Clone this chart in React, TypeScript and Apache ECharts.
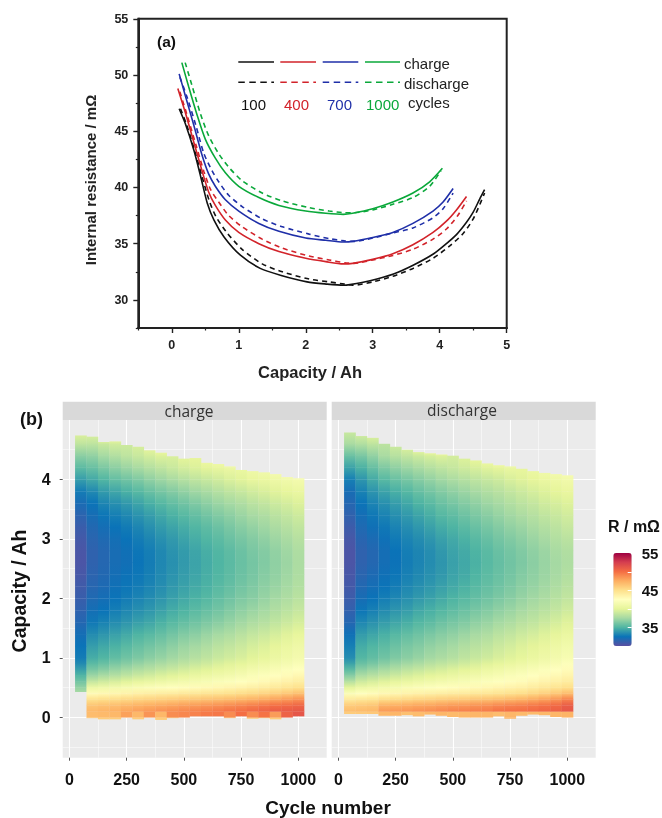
import React, { useEffect, useRef } from "react";
import * as echarts from "echarts";

const FONT = '"Liberation Sans", Arial, sans-serif';

// Panel (a): [capacity, resistance]
const black100Charge = [[0.11,47],[0.2,45.7],[0.33,43.3],[0.43,41],[0.53,38.6],[0.63,37.1],[0.78,35.6],[1.02,34],[1.32,32.8],[1.62,32.2],[2.02,31.6],[2.32,31.4],[2.56,31.3],[2.66,31.36],[2.96,31.7],[3.31,32.3],[3.61,33.1],[3.91,34.1],[4.1,35],[4.25,35.8],[4.4,36.9],[4.5,37.8],[4.6,39],[4.67,39.8]];
const black100Discharge = [[0.13,47],[0.22,45.6],[0.35,43.1],[0.45,41],[0.56,38.8],[0.66,37.4],[0.82,36],[1.05,34.5],[1.35,33.2],[1.65,32.5],[2.05,31.85],[2.35,31.6],[2.58,31.4],[2.7,31.3],[3,31.6],[3.3,32.1],[3.6,32.8],[3.9,33.7],[4.15,34.8],[4.35,35.9],[4.5,37.2],[4.6,38.5],[4.67,39.5]];
const red400Charge = [[0.09,48.8],[0.2,46.7],[0.33,44],[0.45,41.5],[0.55,39.6],[0.65,38.4],[0.8,37.1],[1,36],[1.3,35],[1.6,34.3],[2,33.7],[2.3,33.4],[2.56,33.2],[2.7,33.25],[3,33.6],[3.3,34.1],[3.6,34.9],[3.9,36],[4.1,37],[4.25,38],[4.4,39.2]];
const red400Discharge = [[0.12,48.5],[0.22,46.6],[0.36,43.8],[0.48,41.4],[0.58,39.8],[0.7,38.7],[0.85,37.5],[1.05,36.5],[1.35,35.4],[1.65,34.6],[2.05,33.9],[2.35,33.55],[2.58,33.3],[2.72,33.25],[3,33.55],[3.3,33.95],[3.6,34.5],[3.9,35.4],[4.1,36.3],[4.27,37.5],[4.4,38.8]];
const blue700Charge = [[0.11,50.1],[0.2,48.2],[0.33,45.5],[0.45,42.9],[0.55,41.2],[0.65,40.1],[0.8,38.9],[1,37.9],[1.3,36.8],[1.6,36.1],[2,35.5],[2.3,35.3],[2.56,35.15],[2.7,35.2],[3,35.55],[3.3,36],[3.6,36.8],[3.9,37.9],[4.05,38.7],[4.2,39.9]];
const blue700Discharge = [[0.12,49.8],[0.23,48],[0.36,45.5],[0.48,43],[0.6,41.5],[0.7,40.5],[0.85,39.3],[1.05,38.3],[1.35,37.2],[1.65,36.5],[2.05,35.85],[2.35,35.45],[2.58,35.25],[2.72,35.2],[3,35.5],[3.3,35.95],[3.6,36.4],[3.9,37.3],[4.05,38.1],[4.2,39.5]];
const green1000Charge = [[0.15,51.1],[0.25,49],[0.38,46.4],[0.5,44.3],[0.65,42.6],[0.8,41.3],[1,40.1],[1.3,39.1],[1.6,38.4],[2,37.9],[2.3,37.7],[2.56,37.6],[2.7,37.7],[3,38.1],[3.3,38.7],[3.6,39.5],[3.85,40.5],[4.04,41.7]];
const green1000Discharge = [[0.2,51.1],[0.3,49.1],[0.43,46.5],[0.55,44.6],[0.7,43],[0.85,41.8],[1.05,40.6],[1.35,39.5],[1.65,38.8],[2.05,38.2],[2.35,37.9],[2.58,37.75],[2.72,37.75],[3,38],[3.3,38.5],[3.6,39.1],[3.85,40.1],[4.02,41.5]];
const xTicksA = [0,1,2,3,4,5];
const xMinorA = [-0.5,0.5,1.5,2.5,3.5,4.5];
const yTicksA = [30,35,40,45,50,55];
const yMinorA = [27.5,32.5,37.5,42.5,47.5,52.5];

// Panel (b)
const cycleCentres = [50,100,150,200,250,300,350,400,450,500,550,600,650,700,750,800,850,900,950,1000];
const rowEdges = [-0.1,0,0.1,0.2,0.3,0.4,0.5,0.6,0.7,0.8,0.9,1.0,1.2,1.4,1.6,1.8,2.0,2.2,2.4,2.6,2.8,3.0,3.2,3.4,3.6,3.8,4.0,4.2,4.4,4.6,4.8];
const chargeTops = [4.74,4.72,4.63,4.64,4.58,4.55,4.49,4.45,4.39,4.35,4.36,4.28,4.26,4.22,4.16,4.14,4.12,4.09,4.04,4.02];
const chargeBottoms = [0.43,-0.01,-0.03,-0.03,0,-0.03,0,-0.04,-0.01,0,0.02,0.02,0.02,-0.01,0.02,-0.02,-0.01,-0.03,0,0.02];
const dischargeTops = [4.79,4.73,4.7,4.6,4.55,4.5,4.46,4.44,4.42,4.4,4.35,4.32,4.27,4.24,4.22,4.18,4.14,4.11,4.09,4.07];
const dischargeBottoms = [0.06,0.06,0.06,0.03,0.03,0.04,0.02,0.05,0.03,0.01,0,0,0,0.02,-0.02,0.03,0.05,0.04,0.01,0];

const chargeR = [
[null,46,46,46,46,46,46,46,46,46,46,46,46,46,46,46,46,46,46,46],
[null,46.8,46.9,47,48,47,48.5,47,48.8,49,49.2,49.5,49.6,48.8,50,48.8,49.8,48.2,50.6,51.2],
[null,47,47.2,47.4,47.8,48.1,48.4,48.6,48.8,49,49.2,49.4,49.6,49.9,50,50.3,50.6,50.9,51,51.1],
[null,45.8,46,46.1,46.3,46.5,46.7,46.8,47,47.2,47.3,47.5,47.7,47.9,48.2,48.5,48.8,49.1,49.4,49.8],
[null,44,44.2,44.3,44.5,44.7,44.8,45,45.1,45.3,45.4,45.6,45.7,45.9,46.1,46.3,46.6,46.9,47.3,47.7],
[37.5,41.8,42,42.2,42.5,42.7,42.9,43.1,43.2,43.4,43.5,43.7,43.8,44,44.2,44.4,44.6,44.9,45.2,45.6],
[36.5,39.6,40,40.3,40.7,41,41.3,41.5,41.7,41.9,42.1,42.3,42.5,42.7,42.9,43.2,43.4,43.7,44,44.3],
[35.6,37.9,38.3,38.7,39.1,39.5,39.8,40.1,40.4,40.7,40.9,41.2,41.5,41.7,42,42.3,42.6,42.9,43.2,43.5],
[34.6,36.7,37.2,37.6,38,38.4,38.7,39.1,39.4,39.7,40,40.3,40.6,40.9,41.2,41.6,41.9,42.2,42.5,42.8],
[33.8,35.8,36.2,36.7,37.1,37.5,37.8,38.2,38.5,38.9,39.2,39.5,39.9,40.2,40.5,40.9,41.2,41.5,41.9,42.2],
[33,35,35.4,35.9,36.3,36.7,37.1,37.4,37.8,38.1,38.5,38.8,39.2,39.5,39.8,40.2,40.5,40.9,41.2,41.6],
[32.7,34.4,34.8,35.2,35.6,36,36.4,36.7,37.1,37.5,37.8,38.2,38.6,38.9,39.2,39.6,39.9,40.3,40.7,41.1],
[32.4,33.8,34.2,34.6,35,35.4,35.7,36.1,36.5,36.9,37.2,37.6,38,38.3,38.7,39.1,39.4,39.8,40.2,40.6],
[31.9,33,33.4,33.8,34.1,34.5,34.8,35.2,35.6,36,36.3,36.7,37.1,37.4,37.8,38.2,38.5,38.9,39.3,39.7],
[31.5,32.4,32.7,33.1,33.5,33.8,34.1,34.5,34.9,35.2,35.6,36,36.3,36.7,37.1,37.5,37.8,38.2,38.6,39],
[31.2,32,32.3,32.7,33,33.3,33.6,34,34.4,34.7,35.1,35.4,35.8,36.2,36.6,36.9,37.3,37.7,38.1,38.5],
[30.9,31.7,32,32.4,32.7,33,33.3,33.6,34,34.4,34.7,35,35.4,35.8,36.2,36.5,36.9,37.3,37.7,38.1],
[30.7,31.5,31.8,32.2,32.5,32.7,33,33.4,33.8,34.1,34.5,34.8,35.2,35.5,35.9,36.3,36.7,37,37.4,37.9],
[30.5,31.4,31.7,32.1,32.3,32.6,32.9,33.3,33.6,34,34.3,34.7,35,35.4,35.8,36.1,36.5,36.9,37.3,37.8],
[30.4,31.3,31.6,32,32.2,32.5,32.8,33.2,33.6,33.9,34.3,34.6,35,35.3,35.7,36.1,36.4,36.8,37.2,37.7],
[30.6,31.4,31.7,32.1,32.4,32.7,33,33.4,33.8,34.1,34.5,34.9,35.2,35.6,36,36.4,36.7,37.1,37.5,38],
[30.8,31.6,32,32.3,32.6,33,33.4,33.8,34.1,34.5,34.9,35.2,35.6,36,36.4,36.7,37.1,37.5,37.9,38.3],
[31.2,31.9,32.3,32.7,33,33.4,33.8,34.2,34.6,34.9,35.3,35.7,36.1,36.5,36.9,37.3,37.6,38,38.4,38.8],
[31.7,32.3,32.9,33.2,33.6,34,34.4,34.8,35.2,35.6,36,36.4,36.8,37.1,37.5,37.9,38.2,38.6,38.9,39.3],
[32.3,32.8,33.5,33.9,34.3,34.7,35.2,35.6,36,36.4,36.8,37.2,37.6,38,38.3,38.7,39,39.4,39.7,40],
[33.4,33.9,34.5,35,35.4,35.8,36.3,36.7,37.1,37.5,37.9,38.2,38.6,39,39.3,39.7,40,40.3,40.6,40.9],
[34.8,35.2,35.7,36.2,36.6,37,37.5,37.9,38.3,38.7,39.1,39.4,39.7,40.1,40.4,40.8,41,41.3,41.5,41.7],
[36,36.3,36.9,37.4,37.9,38.3,38.7,39.1,39.5,39.9,40.1,40.5,40.8,41.1],
[37.5,37.6,38.2,38.6,39,39.4,39.8,40.2],
[39.5,39.3,39.5,39.8],
];

const dischargeR = [
[47,47,47,47,47,47,47,47,47,47,47,47,47,47,47,47,47,47,47,47],
[46,46.1,46.2,47,47.1,46.6,46.8,47,47.1,46.9,47,47.1,47.1,46.8,47.1,46.9,46.9,47,47.1,47.2],
[46.8,46.9,47,48.3,48.4,48.5,48.7,48.8,49,49.2,49.3,49.4,49.5,49.9,50,50,50.2,50.4,50.7,51.1],
[45.3,45.5,45.7,46.3,46.5,46.7,46.9,47,47.2,47.4,47.5,47.7,47.9,48.1,48.4,48.7,49,49.4,49.8,50.6],
[43.2,43.5,43.7,44,44.1,44.3,44.5,44.6,44.8,44.9,45,45.2,45.3,45.5,45.7,45.9,46.3,46.7,47.2,47.9],
[41,41.5,41.8,42.1,42.3,42.6,42.8,43,43.1,43.3,43.4,43.6,43.7,43.9,44.1,44.3,44.6,44.9,45.3,45.7],
[39,39.8,40.1,40.5,40.8,41.1,41.4,41.6,41.8,42,42.2,42.4,42.6,42.8,43,43.2,43.5,43.8,44.1,44.4],
[37.4,38.4,38.8,39.2,39.6,39.9,40.2,40.5,40.8,41,41.3,41.5,41.8,42,42.3,42.5,42.8,43.1,43.4,43.7],
[36,37.3,37.7,38.1,38.5,38.9,39.2,39.5,39.8,40.1,40.4,40.7,41,41.3,41.6,41.9,42.2,42.5,42.8,43.1],
[34.9,36.3,36.7,37.2,37.6,38,38.3,38.7,39,39.3,39.6,39.9,40.3,40.6,40.9,41.2,41.5,41.9,42.2,42.6],
[33.8,35.4,35.8,36.3,36.7,37,37.4,37.8,38.1,38.4,38.8,39.1,39.4,39.8,40.1,40.4,40.8,41.1,41.5,41.9],
[33.2,34.9,35.3,35.7,36.1,36.5,36.8,37.2,37.5,37.8,38.2,38.5,38.8,39.2,39.5,39.9,40.2,40.6,41,41.4],
[32.7,34.4,34.8,35.2,35.6,36,36.3,36.7,37,37.3,37.7,38,38.3,38.7,39,39.4,39.7,40.1,40.5,40.9],
[31.9,33.6,34,34.4,34.8,35.1,35.5,35.8,36.2,36.5,36.8,37.2,37.5,37.9,38.2,38.6,38.9,39.3,39.7,40.1],
[31.4,32.9,33.3,33.7,34.1,34.4,34.8,35.1,35.5,35.8,36.1,36.5,36.8,37.2,37.5,37.9,38.2,38.6,39,39.4],
[31.1,32.3,32.7,33.1,33.5,33.8,34.2,34.5,34.8,35.2,35.5,35.9,36.2,36.6,36.9,37.3,37.7,38,38.4,38.8],
[30.8,31.9,32.3,32.7,33,33.4,33.7,34,34.4,34.7,35.1,35.4,35.8,36.1,36.5,36.9,37.2,37.6,38,38.4],
[30.6,31.6,32,32.4,32.7,33.1,33.4,33.7,34,34.4,34.7,35.1,35.5,35.8,36.2,36.6,36.9,37.3,37.7,38.1],
[30.5,31.4,31.8,32.2,32.5,32.9,33.2,33.5,33.8,34.2,34.5,34.9,35.3,35.7,36,36.4,36.8,37.2,37.5,37.9],
[30.4,31.3,31.6,32.1,32.4,32.8,33.1,33.4,33.8,34.2,34.5,34.8,35.2,35.6,36,36.3,36.7,37.1,37.5,37.8],
[30.5,31.4,31.8,32.2,32.6,33,33.3,33.6,34,34.4,34.7,35.1,35.5,35.9,36.2,36.6,37,37.4,37.8,38.1],
[30.7,31.7,32.1,32.5,32.9,33.3,33.6,34,34.4,34.7,35.1,35.5,35.9,36.3,36.7,37,37.4,37.8,38.2,38.5],
[31.1,32,32.5,32.9,33.3,33.7,34.1,34.5,34.9,35.2,35.6,36,36.4,36.8,37.2,37.5,37.9,38.3,38.6,39],
[31.5,32.3,32.9,33.3,33.8,34.2,34.6,35,35.5,35.8,36.2,36.6,37,37.3,37.7,38.1,38.4,38.8,39.1,39.4],
[31.9,32.8,33.4,33.9,34.4,34.8,35.3,35.7,36.1,36.5,36.9,37.2,37.6,37.9,38.3,38.7,39,39.4,39.7,40],
[32.3,33.3,34.1,34.7,35.2,35.6,36.1,36.5,36.9,37.3,37.6,38,38.3,38.6,39,39.3,39.7,40,40.3,40.7],
[33.6,34.3,35.1,35.8,36.3,36.7,37.1,37.5,37.9,38.2,38.6,38.9,39.2,39.5,39.9,40.2,40.5,40.9,41.2,41.5],
[35,35.5,36.3,37,37.5,37.9,38.3,38.7,39,39.3,39.6,40,40.4,40.7,40.9],
[36.6,37,37.6,38.4,38.9,39.3,39.7,40,40.3],
[38.8,39,39.4],
];

const xTicksB = [0,250,500,750,1000];
const xMinorB = [125,375,625,875];
const yTicksB = [0,1,2,3,4];
const yMinorB = [-0.5,0.5,1.5,2.5,3.5,4.5];
const legendLabels = [35,45,55];
const legendTicks = [35,40,45,50];
const palette = ["#5a4fa2","#0a73b8","#4fb5a3","#a5d9a3","#e6f59a","#ffffbf","#fee08b","#fdae61","#f46d43","#d53e4f","#9e0142"];
const SCALE_MIN = 30, SCALE_MAX = 55;

function buildCells(rows: (number|null)[][], tops: number[], bottoms: number[]) {
  const cells: number[][] = [];
  rows.forEach((row, r) => {
    row.forEach((v, c) => {
      if (v == null) return;
      const lo = Math.max(rowEdges[r], bottoms[c]);
      const hi = Math.min(rowEdges[r + 1], tops[c]);
      if (hi <= lo) return;
      const below = r >= 3 ? rows[r - 1]?.[c] ?? v : v;
      const above = r >= 2 ? rows[r + 1]?.[c] ?? v : v;
      cells.push([cycleCentres[c] - 25, cycleCentres[c] + 25, lo, hi, v, (v + below) / 2, (v + above) / 2]);
    });
  });
  return cells;
}

const shade = (v: number) => echarts.color.lerp((v - SCALE_MIN) / (SCALE_MAX - SCALE_MIN), palette);

const renderCell = (params: any, api: any) => {
  const a = api.coord([api.value(0), api.value(3)]);
  const b = api.coord([api.value(1), api.value(2)]);
  return {
    type: "rect",
    shape: { x: a[0], y: a[1], width: b[0] - a[0] + 0.3, height: b[1] - a[1] + 0.3 },
    style: {
      fill: new echarts.graphic.LinearGradient(0, 0, 0, 1, [
        { offset: 0, color: shade(api.value(6)) },
        { offset: 1, color: shade(api.value(5)) },
      ]),
    },
  };
};

const lineSeries = (data: number[][], color: string, dashed: boolean) => ({
  type: "line", xAxisIndex: 0, yAxisIndex: 0, data, showSymbol: false, symbol: "none", smooth: 0.25,
  lineStyle: { color, width: 1.6, type: dashed ? [5, 4] : "solid" }, silent: true,
});

const heatSeries = (axis: number, cells: number[][]) => ({
  type: "custom", xAxisIndex: axis, yAxisIndex: axis, data: cells, renderItem: renderCell, silent: true,
  encode: { x: [0, 1], y: [2, 3] }, clip: false,
});

const txt = (text: string, x: number, y: number, font: string, color = "#111", align = "left", rotation = 0) => ({
  type: "text", x, y, rotation, z: 20,
  style: { text, font, fill: color, textAlign: align, textVerticalAlign: "middle" },
});
const seg = (x1: number, x2: number, y: number, color: string, dashed: boolean) => ({
  type: "line", z: 20, shape: { x1, y1: y, x2, y2: y },
  style: { stroke: color, lineWidth: 1.5, lineDash: dashed ? [6.5, 4.5] : undefined },
});

const BLACK = "#111111", RED = "#d2232a", BLUE = "#1f2fa8", GREEN = "#0aa83a";

const App = () => {
  const ref = useRef<HTMLDivElement>(null);
  useEffect(() => {
    const chart = echarts.init(ref.current!, undefined, { renderer: "svg" });
    const panelB = (i: number) => [62.7, 331.7][i];
    const grids = [
      { left: 138.3, top: 18.75, width: 368.4, height: 309.25, show: true, borderColor: "#222", borderWidth: 2, backgroundColor: "#fff" },
      { left: panelB(0), top: 420, width: 264, height: 337.7, show: true, borderWidth: 0, backgroundColor: "#EBEBEB" },
      { left: panelB(1), top: 420, width: 264, height: 337.7, show: true, borderWidth: 0, backgroundColor: "#EBEBEB" },
      { left: 613.3, top: 553, width: 18.4, height: 93 },
    ];
    const labelB = { color: "#111", fontFamily: FONT, fontWeight: "bold", fontSize: 16 };
    const xB = (grid: number) => [
      { type: "value", gridIndex: grid, min: -29, max: 1124, axisLine: { show: false, onZero: false },
        axisTick: { show: true, length: 3, lineStyle: { color: "#555" }, customValues: xTicksB },
        axisLabel: { ...labelB, margin: 14, customValues: xTicksB, formatter: (v: number) => String(v) },
        splitLine: { show: true, lineStyle: { color: "#fff", width: 1.1 } } },
      { type: "value", gridIndex: grid, min: -29, max: 1124, position: "top", axisLine: { show: false, onZero: false },
        axisTick: { show: false, customValues: xMinorB }, axisLabel: { show: false, customValues: xMinorB },
        splitLine: { show: true, lineStyle: { color: "#fff", width: 0.5 } } },
    ];
    const yB = (grid: number, labels: boolean) => [
      { type: "value", gridIndex: grid, min: -0.68, max: 5.0, axisLine: { show: false, onZero: false },
        axisTick: { show: labels, length: 3, lineStyle: { color: "#555" }, customValues: yTicksB },
        axisLabel: { ...labelB, show: labels, margin: 12, customValues: yTicksB },
        splitLine: { show: true, lineStyle: { color: "#fff", width: 1.1 } } },
      { type: "value", gridIndex: grid, min: -0.68, max: 5.0, position: "right", axisLine: { show: false, onZero: false },
        axisTick: { show: false, customValues: yMinorB }, axisLabel: { show: false, customValues: yMinorB },
        splitLine: { show: true, lineStyle: { color: "#fff", width: 0.5 } } },
    ];
    const labelA = { color: "#222", fontFamily: FONT, fontWeight: "bold", fontSize: 12.5 };
    const lineA = { onZero: false, lineStyle: { color: "#222", width: 2 } };
    const xAxes: any[] = [
      { type: "value", gridIndex: 0, min: -0.5, max: 5, splitLine: { show: false }, axisLine: lineA,
        axisTick: { length: 5, lineStyle: { color: "#222", width: 1.4 }, customValues: xTicksA },
        axisLabel: { ...labelA, margin: 10, customValues: xTicksA } },
      xB(1)[0],
      xB(1)[1],
      xB(2)[0],
      xB(2)[1],
      { type: "value", gridIndex: 3, min: 0, max: 1, show: false },
      { type: "value", gridIndex: 0, min: -0.5, max: 5, position: "bottom", splitLine: { show: false }, axisLine: lineA,
        axisTick: { length: 2.5, lineStyle: { color: "#222", width: 1.2 }, customValues: xMinorA },
        axisLabel: { show: false, customValues: xMinorA } },
    ];
    const yAxes: any[] = [
      { type: "value", gridIndex: 0, min: 27.5, max: 55, splitLine: { show: false }, axisLine: lineA,
        axisTick: { length: 5, lineStyle: { color: "#222", width: 1.4 }, customValues: yTicksA },
        axisLabel: { ...labelA, margin: 10, customValues: yTicksA } },
      yB(1, true)[0],
      yB(1, true)[1],
      yB(2, false)[0],
      yB(2, false)[1],
      { type: "value", gridIndex: 3, min: 30, max: 55.2, position: "right", z: 10, axisLine: { show: false, onZero: false },
        axisTick: { show: true, inside: true, length: 4, lineStyle: { color: "#fff" }, customValues: legendTicks },
        axisLabel: { color: "#111", fontFamily: FONT, fontWeight: "bold", fontSize: 15, margin: 10, customValues: legendLabels },
        splitLine: { show: false } },
      { type: "value", gridIndex: 0, min: 27.5, max: 55, position: "left", splitLine: { show: false }, axisLine: lineA,
        axisTick: { length: 2.5, lineStyle: { color: "#222", width: 1.2 }, customValues: yMinorA },
        axisLabel: { show: false, customValues: yMinorA } },
    ];
    const option: any = {
      animation: false,
      backgroundColor: "#fff",
      grid: grids,
      xAxis: xAxes,
      yAxis: yAxes,
      visualMap: {
        type: "continuous", show: true, min: SCALE_MIN, max: SCALE_MAX, dimension: 4, seriesIndex: [8, 9], calculable: false,
        inRange: { color: palette }, itemWidth: 18.4, itemHeight: 93, left: 613.3, top: 553, padding: 0,
        hoverLink: false, textStyle: { fontSize: 0 }, borderWidth: 0,
      },
      series: [
        lineSeries(black100Discharge, BLACK, true),
        lineSeries(red400Discharge, RED, true),
        lineSeries(blue700Discharge, BLUE, true),
        lineSeries(green1000Discharge, GREEN, true),
        lineSeries(black100Charge, BLACK, false),
        lineSeries(red400Charge, RED, false),
        lineSeries(blue700Charge, BLUE, false),
        lineSeries(green1000Charge, GREEN, false),
        heatSeries(1, buildCells(chargeR, chargeTops, chargeBottoms)),
        heatSeries(3, buildCells(dischargeR, dischargeTops, dischargeBottoms)),
      ],
      graphic: [
        txt("(a)", 157, 41, `bold 15.5px ${FONT}`),
        seg(238.3, 274, 62, BLACK, false), seg(280.3, 316, 62, RED, false),
        seg(322.7, 358.3, 62, BLUE, false), seg(365, 400, 62, GREEN, false),
        seg(238.3, 274, 82.3, BLACK, true), seg(280.3, 316, 82.3, RED, true),
        seg(322.7, 358.3, 82.3, BLUE, true), seg(365, 400, 82.3, GREEN, true),
        txt("charge", 404, 63, `15px ${FONT}`, "#222"),
        txt("discharge", 404, 83, `15px ${FONT}`, "#222"),
        txt("100", 241, 104, `15px ${FONT}`, BLACK),
        txt("400", 284, 104, `15px ${FONT}`, RED),
        txt("700", 327, 104, `15px ${FONT}`, BLUE),
        txt("1000", 366, 104, `15px ${FONT}`, GREEN),
        txt("cycles", 408, 102, `15px ${FONT}`, "#222"),
        txt("Internal resistance / mΩ", 90, 180, `bold 15px ${FONT}`, "#222", "center", Math.PI / 2),
        txt("Capacity / Ah", 310, 372, `bold 16.5px ${FONT}`, "#222", "center"),
        { type: "rect", z: 5, shape: { x: 62.7, y: 401.7, width: 264, height: 18.3 }, style: { fill: "#D9D9D9" } },
        { type: "rect", z: 5, shape: { x: 331.7, y: 401.7, width: 264, height: 18.3 }, style: { fill: "#D9D9D9" } },
        txt("charge", 189, 411, `15.5px "Open Sans", ${FONT}`, "#333", "center"),
        txt("discharge", 462, 410, `15.5px "Open Sans", ${FONT}`, "#333", "center"),
        txt("(b)", 20, 419, `bold 18px ${FONT}`),
        txt("Capacity / Ah", 19, 591, `bold 19.5px ${FONT}`, "#111", "center", Math.PI / 2),
        txt("Cycle number", 328, 807, `bold 19px ${FONT}`, "#111", "center"),
        txt("R / mΩ", 608, 526, `bold 16px ${FONT}`),
      ],
    };
    chart.setOption(option);
    return () => chart.dispose();
  }, []);
  return <div ref={ref} style={{ position: "absolute", left: 0, top: 0, width: 662, height: 818, filter: "blur(0.4px)" }} />;
};

export default App;
